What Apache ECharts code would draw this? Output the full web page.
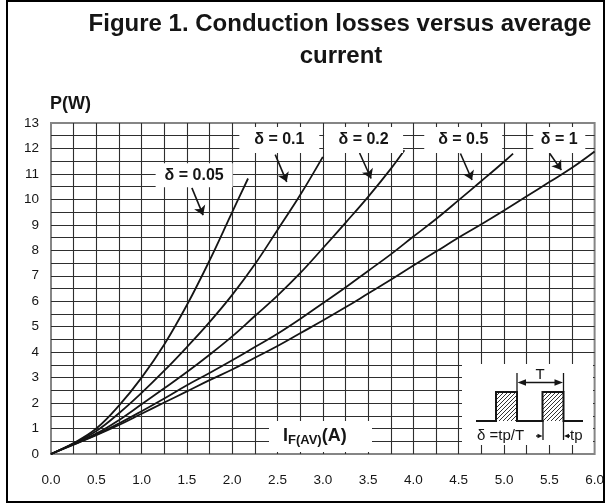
<!DOCTYPE html>
<html><head><meta charset="utf-8">
<script src="https://cdn.jsdelivr.net/npm/echarts@6/dist/echarts.min.js"></script>
<style>html,body{margin:0;padding:0;background:#fff}#c{width:607px;height:504px}</style>
</head><body><div id="c"></div>
<script>
// ---- data ----
const dutyLabels = ['δ = 0.05', 'δ = 0.1', 'δ = 0.2', 'δ = 0.5', 'δ = 1'];
const d005 = [[0,0],[0.25,0.43],[0.5,1.0],[0.75,1.9],[1.0,3.0],[1.25,4.3],[1.5,5.85],[1.75,7.6],[2.0,9.5],[2.175,10.82]];
const d01  = [[0,0],[0.25,0.41],[0.5,0.9],[0.75,1.6],[1.0,2.4],[1.25,3.27],[1.5,4.2],[1.75,5.18],[2.0,6.25],[2.25,7.45],[2.5,8.8],[2.75,10.17],[3.0,11.67]];
const d02  = [[0,0],[0.25,0.4],[0.5,0.8],[0.75,1.33],[1.0,1.95],[1.25,2.58],[1.5,3.22],[1.75,3.9],[2.0,4.62],[2.25,5.42],[2.5,6.22],[2.75,7.1],[3.0,8.08],[3.25,9.08],[3.5,10.1],[3.75,11.2],[3.9,11.93]];
const d05  = [[0,0],[0.25,0.38],[0.5,0.76],[0.75,1.2],[1.0,1.68],[1.25,2.18],[1.5,2.7],[1.75,3.18],[2.0,3.68],[2.25,4.2],[2.5,4.72],[2.75,5.3],[3.0,5.92],[3.25,6.54],[3.5,7.19],[3.75,7.84],[4.0,8.54],[4.25,9.23],[4.5,9.97],[4.75,10.72],[5.0,11.48],[5.1,11.8]];
const d1   = [[0,0],[0.25,0.37],[0.5,0.74],[0.75,1.14],[1.0,1.58],[1.25,2.02],[1.5,2.46],[1.75,2.9],[2.0,3.32],[2.25,3.78],[2.5,4.24],[2.75,4.74],[3.0,5.24],[3.25,5.76],[3.5,6.3],[3.75,6.84],[4.0,7.4],[4.25,7.95],[4.5,8.5],[4.75,9.02],[5.0,9.56],[5.25,10.12],[5.5,10.68],[5.75,11.24],[6.0,11.88]];
const curves = [d005, d01, d02, d05, d1];
// annotation anchors (data coordinates)
const labelAt   = [[1.58,10.95],[2.52,12.33],[3.45,12.33],[4.55,12.33],[5.61,12.33]];
const arrowFrom = [[1.555,10.45],[2.475,11.76],[3.406,11.82],[4.519,11.8],[5.505,11.8]];
const arrowTo   = [[1.679,9.38],[2.602,10.69],[3.533,10.82],[4.647,10.76],[5.633,11.15]];
const labelBox  = [[77,24],[80,26],[79,26],[78,26],[52,26]];

const F = 'Liberation Sans, Arial, Helvetica, sans-serif';
const INK = '#151515';
function isStep(v, s){ return Math.abs(v/s - Math.round(v/s)) < 1e-6; }

function hatch(){
  const c = document.createElement('canvas'); c.width = 4; c.height = 4;
  const g = c.getContext('2d'); g.strokeStyle = '#333'; g.lineWidth = 1;
  g.beginPath(); g.moveTo(0,4); g.lineTo(4,0); g.moveTo(-1,1); g.lineTo(1,-1); g.moveTo(3,5); g.lineTo(5,3); g.stroke();
  return c;
}
const pat = {image: hatch(), repeat: 'repeat'};

const chart = echarts.init(document.getElementById('c'), null, {renderer:'canvas'});
const ln = (x1,y1,x2,y2,w) => ({type:'line', z:20, shape:{x1,y1,x2,y2}, style:{stroke:INK, lineWidth:w||1.3}});
const tri = (pts) => ({type:'polygon', z:20, shape:{points:pts}, style:{fill:INK}});

chart.setOption({
  animation:false,
  grid:{left:51, right:9, top:123, bottom:50, show:true, borderColor:'#858585', borderWidth:2},
  xAxis:{type:'value', min:0, max:6, interval:0.25,
    axisLine:{show:false}, axisTick:{show:false},
    axisLabel:{formatter:v => isStep(v,0.5) ? v.toFixed(1) : '', fontSize:13.5, color:INK, fontFamily:F, margin:19},
    splitLine:{show:true, showMinLine:false, showMaxLine:false, lineStyle:{color:'#2e2e2e', width:1.1}}},
  yAxis:{type:'value', min:0, max:13, interval:0.5,
    axisLine:{show:false}, axisTick:{show:false},
    axisLabel:{formatter:v => isStep(v,1) ? String(v) : '', fontSize:13.5, color:INK, fontFamily:F, margin:12},
    splitLine:{show:true, showMinLine:false, showMaxLine:false, lineStyle:{color:'#2e2e2e', width:1.1}}},
  series: curves.map((c,i) => ({
    type:'line', data:c, showSymbol:false, smooth:0.4, z:3,
    lineStyle:{color:INK, width:1.8}, emphasis:{disabled:true},
    markPoint:{silent:true, symbol:'rect', symbolSize:labelBox[i], itemStyle:{color:'#fff'},
      label:{show:true, formatter:dutyLabels[i], color:INK, fontSize:16, fontWeight:'bold', fontFamily:F},
      data:[{coord:labelAt[i]}]},
    markLine:{silent:true, symbol:['none','arrow'], symbolSize:9,
      lineStyle:{color:INK, width:1.6, type:'solid'}, label:{show:false},
      data:[[{coord:arrowFrom[i]},{coord:arrowTo[i]}]]}
  })),
  graphic:[
    {type:'rect', z:30, shape:{x:7, y:1, width:597, height:501}, style:{fill:'none', stroke:'#000', lineWidth:2}},
    {type:'text', z:30, x:340, y:24.5, style:{text:'Figure 1. Conduction losses versus average', font:'bold 24px '+F, fill:INK, textAlign:'center', textVerticalAlign:'middle'}},
    {type:'text', z:30, x:341, y:56.5, style:{text:'current', font:'bold 24px '+F, fill:INK, textAlign:'center', textVerticalAlign:'middle'}},
    {type:'text', z:30, x:50, y:104, style:{text:'P(W)', font:'bold 18px '+F, fill:INK, textAlign:'left', textVerticalAlign:'middle'}},
    // x axis name box
    {type:'rect', z:15, shape:{x:269, y:421, width:103, height:31}, style:{fill:'#fff'}},
    {type:'text', z:30, x:283, y:436, style:{text:'{a|I}{b|F(AV)}{a|(A)}', textVerticalAlign:'middle', fill:INK,
      rich:{a:{font:'bold 18px '+F, fill:INK}, b:{font:'bold 13px '+F, fill:INK, padding:[9,0,0,0]}}}},
    // inset
    {type:'rect', z:15, shape:{x:462, y:364, width:131, height:81}, style:{fill:'#fff'}},
    {type:'rect', z:18, shape:{x:496, y:392, width:21, height:29}, style:{fill:pat}},
    {type:'rect', z:18, shape:{x:542.5, y:392, width:21, height:29}, style:{fill:pat}},
    {type:'polyline', z:20, shape:{points:[[476,421],[496,421],[496,392],[517,392],[517,421],[542.5,421],[542.5,392],[563.5,392],[563.5,421],[583,421]]}, style:{stroke:INK, lineWidth:2, fill:null}},
    ln(517,373,517,392,1.3), ln(563.5,373,563.5,392,1.3),
    ln(524,382.5,557,382.5,1.4), tri([[517.5,382.5],[526,379.3],[526,385.7]]), tri([[563,382.5],[554.5,379.3],[554.5,385.7]]),
    {type:'text', z:30, x:540, y:375, style:{text:'T', font:'15px '+F, fill:INK, textAlign:'center', textVerticalAlign:'middle'}},
    ln(543,421,543,440,1.3), ln(563.5,421,563.5,440,1.3),
    ln(536,436,538.5,436,1.3), tri([[542.5,436],[537.5,433.7],[537.5,438.3]]),
    ln(568.5,436,570,436,1.3), tri([[564,436],[569,433.7],[569,438.3]]),
    {type:'text', z:30, x:477, y:436, style:{text:'δ =tp/T', font:'15px '+F, fill:INK, textAlign:'left', textVerticalAlign:'middle'}},
    {type:'text', z:30, x:570, y:436, style:{text:'tp', font:'15px '+F, fill:INK, textAlign:'left', textVerticalAlign:'middle'}}
  ]
});
</script></body></html>
